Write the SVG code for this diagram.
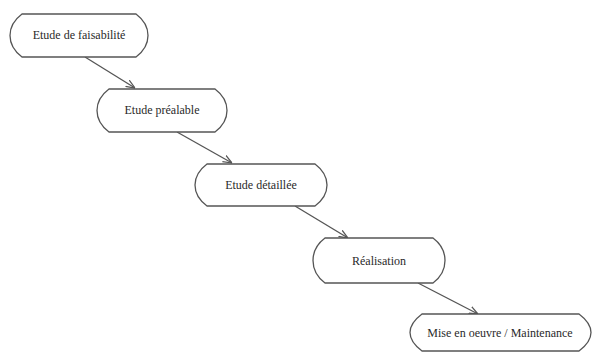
<svg xmlns="http://www.w3.org/2000/svg" width="596" height="352" viewBox="0 0 596 352">
  <style>
    .box { fill: #ffffff; stroke: #555555; stroke-width: 1.3; }
    .lbl { font-family: "Liberation Serif", "DejaVu Serif", "Times New Roman", serif; font-size: 12px; fill: #2a2a2a; text-anchor: middle; dominant-baseline: central; }
    .link { fill: none; stroke: #555555; stroke-width: 1.3; marker-end: url(#arrow); }
  </style>
  <defs>
    <marker id="arrow" viewBox="0 0 10 10" refX="10" refY="5" markerWidth="9" markerHeight="9" markerUnits="userSpaceOnUse" orient="auto">
      <path d="M0,1 L10,5 L0,9" fill="none" stroke="#555555" stroke-width="1.4"/>
    </marker>
  </defs>
  <rect width="596" height="352" fill="#ffffff"/>

  <g id="connectors">
    <line class="link" x1="85" y1="57" x2="135" y2="88"/>
    <line class="link" x1="177" y1="132" x2="232" y2="163"/>
    <line class="link" x1="295" y1="206" x2="348" y2="238"/>
    <line class="link" x1="418" y1="283" x2="478" y2="314"/>
  </g>

  <g id="node-faisabilite">
    <path class="box" d="M22,14 H136 C144,20 148,28 148,35.5 C148,43 144,51 136,57 H22 C14,51 10,43 10,35.5 C10,28 14,20 22,14 Z"/>
    <text class="lbl" x="79" y="35">Etude de faisabilité</text>
  </g>

  <g id="node-prealable">
    <path class="box" d="M109,89 H215 C223,95 227,103 227,110.5 C227,118 223,126 215,132 H109 C101,126 97,118 97,110.5 C97,103 101,95 109,89 Z"/>
    <text class="lbl" x="162" y="110">Etude préalable</text>
  </g>

  <g id="node-detaillee">
    <path class="box" d="M207,164 H315 C323,170 327,177 327,185 C327,193 323,200 315,206 H207 C199,200 195,193 195,185 C195,177 199,170 207,164 Z"/>
    <text class="lbl" x="261" y="185">Etude détaillée</text>
  </g>

  <g id="node-realisation">
    <path class="box" d="M325,238 H433 C441,244 445,252 445,260.5 C445,269 441,277 433,283 H325 C317,277 313,269 313,260.5 C313,252 317,244 325,238 Z"/>
    <text class="lbl" x="379" y="260.5">Réalisation</text>
  </g>

  <g id="node-maintenance">
    <path class="box" d="M422,314 H579 C587,320 591,326 591,332.5 C591,339 587,345 579,351 H422 C414,345 410,339 410,332.5 C410,326 414,320 422,314 Z"/>
    <text class="lbl" x="500" y="333">Mise en oeuvre / Maintenance</text>
  </g>
</svg>
